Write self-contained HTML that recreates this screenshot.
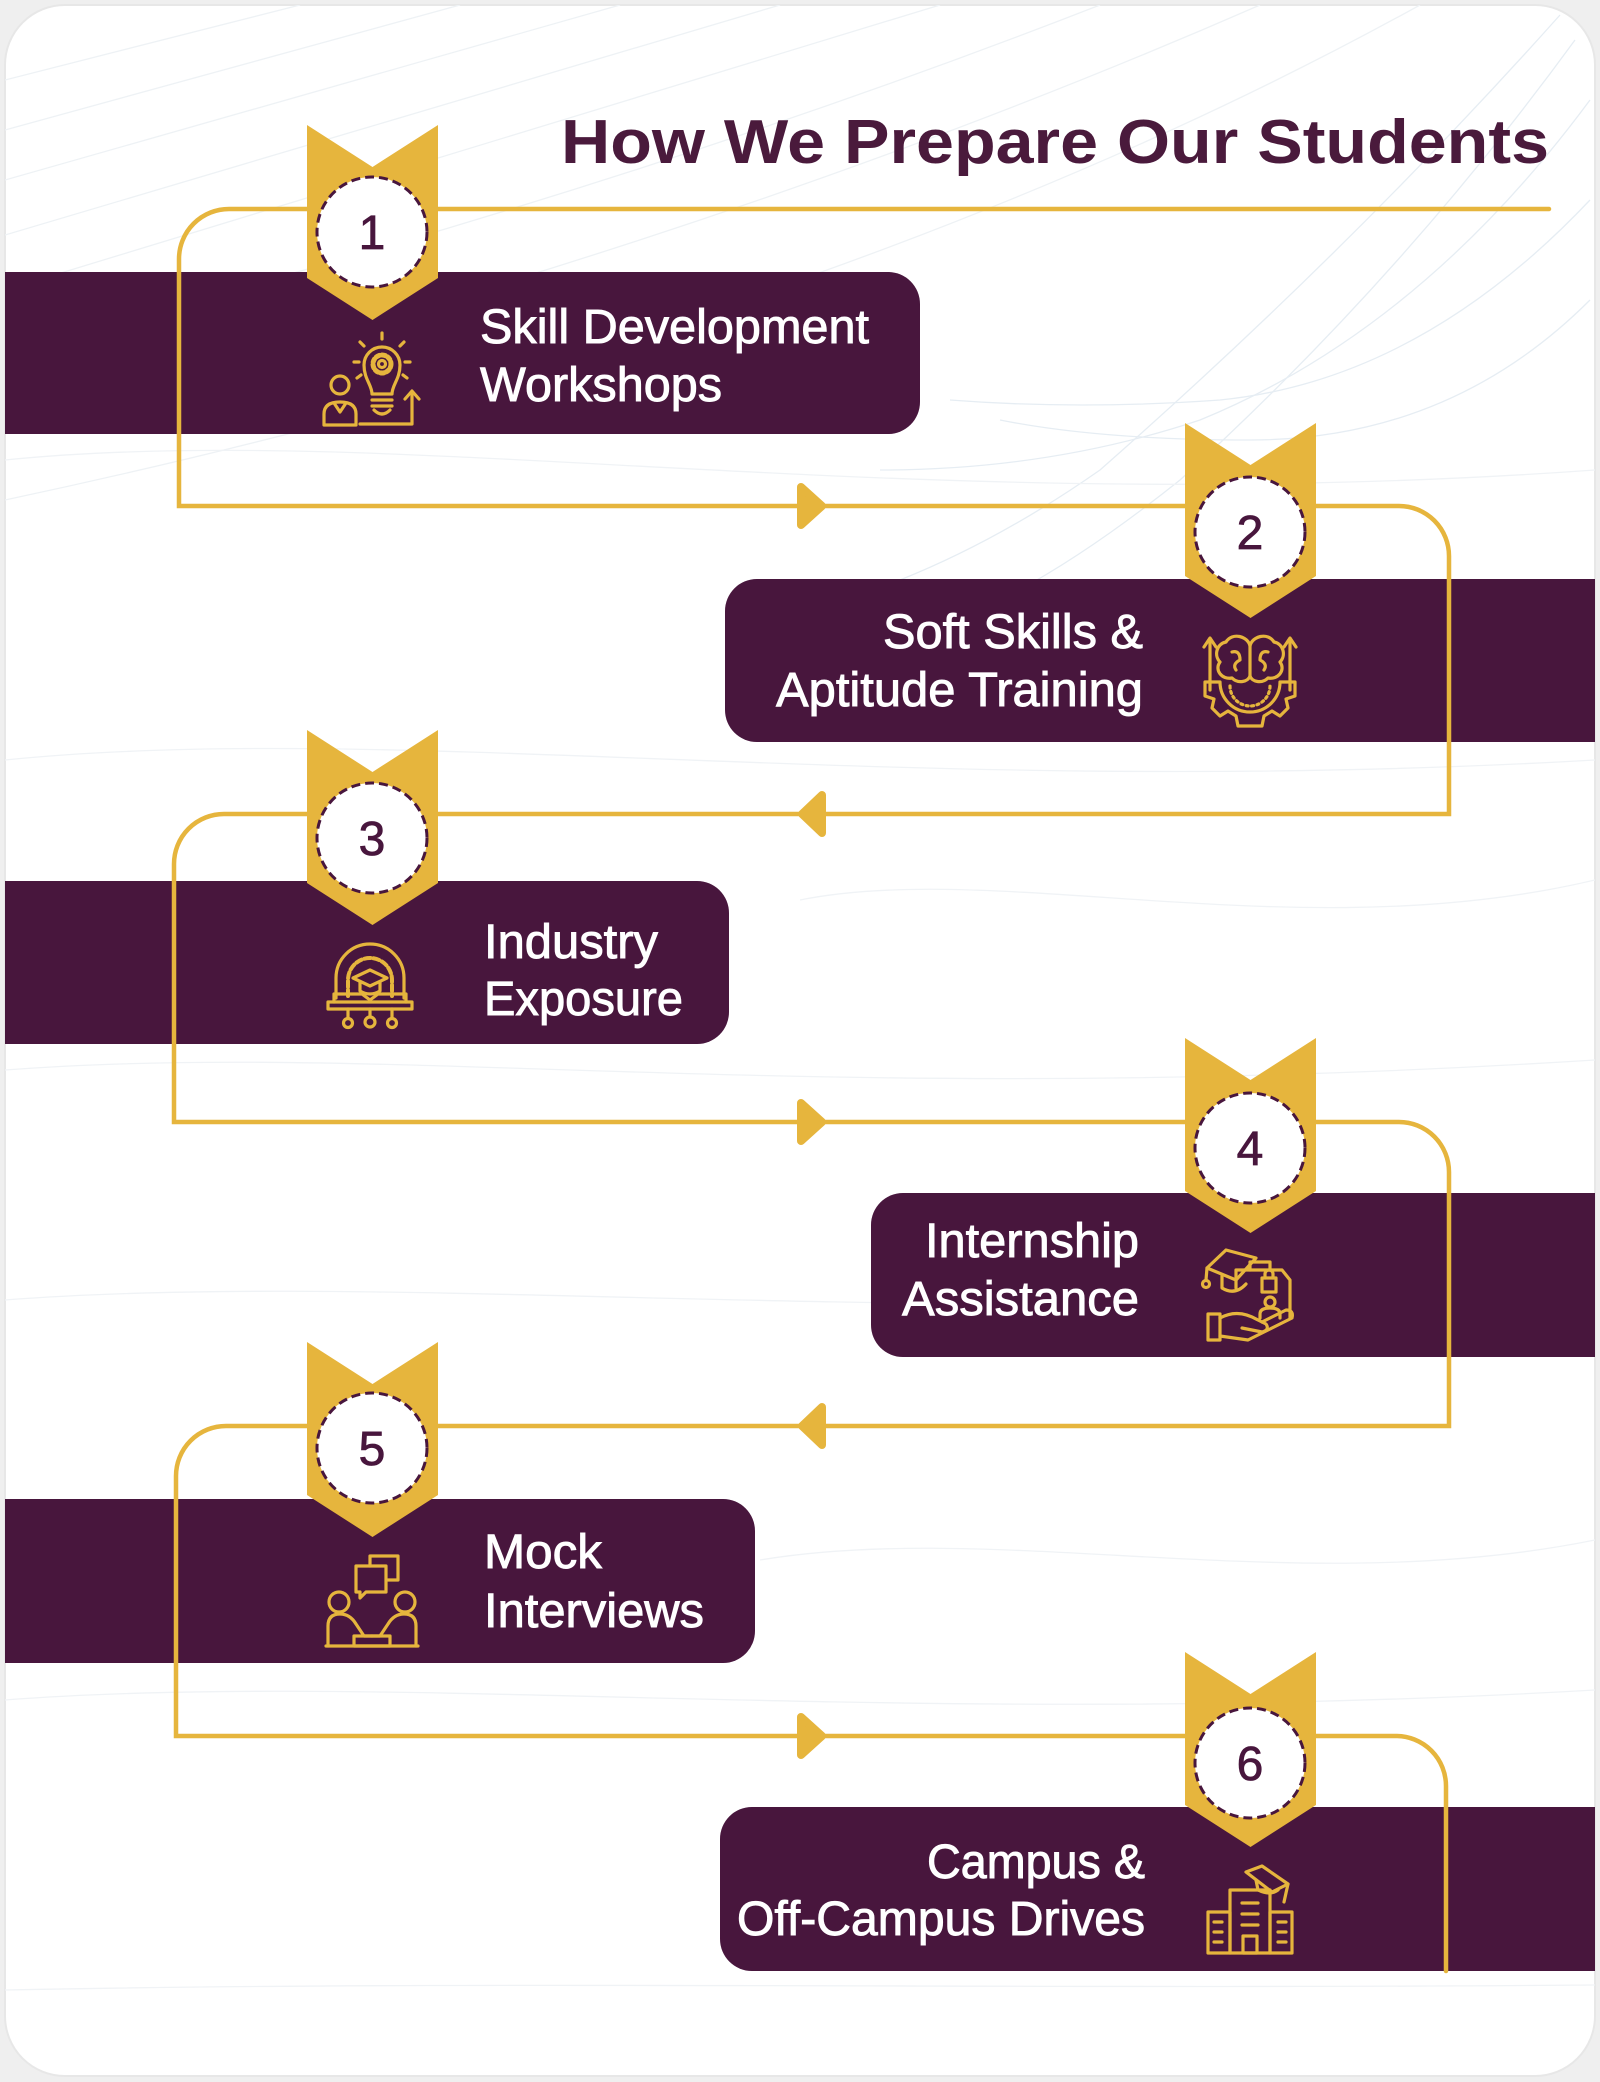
<!DOCTYPE html>
<html>
<head>
<meta charset="utf-8">
<style>
  html,body{margin:0;padding:0;background:#efefef;}
  svg{display:block;}
</style>
</head>
<body>
<svg width="1600" height="2082" viewBox="0 0 1600 2082" xmlns="http://www.w3.org/2000/svg">
  <defs>
    <clipPath id="card">
      <rect x="5" y="5" width="1590" height="2071" rx="60" ry="60"/>
    </clipPath>
  </defs>
  <rect x="0" y="0" width="1600" height="2082" fill="#efefef"/>
  <rect x="5" y="5" width="1590" height="2071" rx="60" ry="60" fill="#ffffff" stroke="#e7e7e7" stroke-width="2"/>

  <!-- background decorative lines -->
  <g clip-path="url(#card)" fill="none" stroke-width="1.3">
    <g stroke="#eef2f5">
      <path d="M 300 5 L 5 80"/>
      <path d="M 460 5 L 5 130"/>
      <path d="M 620 5 L 5 180"/>
      <path d="M 780 5 L 5 235"/>
      <path d="M 940 5 L 5 290"/>
      <path d="M 1100 5 Q 600 200 5 350"/>
      <path d="M 1260 5 Q 700 250 5 420"/>
      <path d="M 1420 5 Q 850 320 5 500"/>
    </g>
    <g stroke="#e6edf3">
      <path d="M 1560 15 Q 1350 250 1100 470 Q 1000 540 900 580"/>
      <path d="M 1575 40 Q 1400 280 1180 480 Q 1080 560 1000 600"/>
      <path d="M 1590 100 Q 1420 330 1200 420 Q 1050 470 880 470"/>
      <path d="M 1590 200 Q 1420 380 1220 400 Q 1080 410 950 400"/>
      <path d="M 1590 300 Q 1450 440 1250 440 Q 1100 440 1000 420"/>
    </g>
    <g stroke="#f0f3f6">
      <path d="M 5 460 C 400 420 900 520 1595 470"/>
      <path d="M 5 760 C 400 720 900 800 1595 760"/>
      <path d="M 5 1070 C 400 1040 800 1110 1595 1060"/>
      <path d="M 5 1300 C 400 1270 900 1330 1595 1290"/>
      <path d="M 5 1700 C 400 1670 900 1730 1595 1690"/>
      <path d="M 5 1990 C 500 1980 1000 1990 1595 1985"/>
      <path d="M 800 900 C 1000 860 1300 950 1595 880"/>
      <path d="M 760 1560 C 1000 1520 1300 1600 1595 1540"/>
    </g>
  </g>

  <!-- Title -->
  <text x="561" y="163" textLength="988" lengthAdjust="spacingAndGlyphs" font-family="'Liberation Sans', sans-serif" font-weight="bold" font-size="62" fill="#4a1a3c">How We Prepare Our Students</text>

  <!-- Banners -->
  <g fill="#48163d">
    <path d="M 5 272 H 888 A 32 32 0 0 1 920 304 V 402 A 32 32 0 0 1 888 434 H 5 Z"/>
    <path d="M 1595 579 H 757 A 32 32 0 0 0 725 611 V 710 A 32 32 0 0 0 757 742 H 1595 Z"/>
    <path d="M 5 881 H 697 A 32 32 0 0 1 729 913 V 1012 A 32 32 0 0 1 697 1044 H 5 Z"/>
    <path d="M 1595 1193 H 903 A 32 32 0 0 0 871 1225 V 1325 A 32 32 0 0 0 903 1357 H 1595 Z"/>
    <path d="M 5 1499 H 723 A 32 32 0 0 1 755 1531 V 1631 A 32 32 0 0 1 723 1663 H 5 Z"/>
    <path d="M 1595 1807 H 752 A 32 32 0 0 0 720 1839 V 1939 A 32 32 0 0 0 752 1971 H 1595 Z"/>
  </g>

  <!-- Connectors -->
  <path d="M 1549 209 H 229 A 50 50 0 0 0 179 259 V 506 H 1399 A 50 50 0 0 1 1449 556 V 814 H 224 A 50 50 0 0 0 174 864 V 1122 H 1399 A 50 50 0 0 1 1449 1172 V 1426 H 226 A 50 50 0 0 0 176 1476 V 1736 H 1396 A 50 50 0 0 1 1446 1786 V 1971" fill="none" stroke="#e6b53d" stroke-width="4.5" stroke-linecap="round"/>

  <!-- Arrowheads -->
  <g fill="#e6b53d" stroke="#e6b53d" stroke-width="8" stroke-linejoin="round">
    <polygon points="801,487 822,506 801,525"/>
    <polygon points="802,814 822,795 822,833"/>
    <polygon points="801,1103 822,1122 801,1141"/>
    <polygon points="802,1426 822,1407 822,1445"/>
    <polygon points="801,1717 822,1736 801,1755"/>
  </g>

  <!-- Ribbons -->
  <g fill="#e6b53d">
    <polygon points="307,125 372.5,167 438,125 438,278 372.5,320 307,278"/>
    <polygon points="1185,423 1250.5,465 1316,423 1316,576 1250.5,618 1185,576"/>
    <polygon points="307,730 372.5,772 438,730 438,883 372.5,925 307,883"/>
    <polygon points="1185,1038 1250.5,1080 1316,1038 1316,1191 1250.5,1233 1185,1191"/>
    <polygon points="307,1342 372.5,1384 438,1342 438,1495 372.5,1537 307,1495"/>
    <polygon points="1185,1652 1250.5,1694 1316,1652 1316,1805 1250.5,1847 1185,1805"/>
  </g>

  <!-- Number circles -->
  <g fill="#ffffff" stroke="#48163d" stroke-width="3" stroke-dasharray="9 5">
    <circle cx="372" cy="232" r="55"/>
    <circle cx="1250" cy="532" r="55"/>
    <circle cx="372" cy="838" r="55"/>
    <circle cx="1250" cy="1148" r="55"/>
    <circle cx="372" cy="1448" r="55"/>
    <circle cx="1250" cy="1763" r="55"/>
  </g>
  <g font-family="'Liberation Sans', sans-serif" font-size="48" fill="#48163d" text-anchor="middle" stroke="#48163d" stroke-width="0.8">
    <text x="372" y="249">1</text>
    <text x="1250" y="549">2</text>
    <text x="372" y="855">3</text>
    <text x="1250" y="1165">4</text>
    <text x="372" y="1465">5</text>
    <text x="1250" y="1780">6</text>
  </g>

  <!-- Labels -->
  <g font-family="'Liberation Sans', sans-serif" font-size="48" fill="#ffffff" stroke="#ffffff" stroke-width="0.9">
    <text x="480" y="343" textLength="389" lengthAdjust="spacingAndGlyphs">Skill Development</text>
    <text x="480" y="401" textLength="242" lengthAdjust="spacingAndGlyphs">Workshops</text>
    <text x="883" y="648" textLength="260" lengthAdjust="spacingAndGlyphs">Soft Skills &amp;</text>
    <text x="776" y="706" textLength="367" lengthAdjust="spacingAndGlyphs">Aptitude Training</text>
    <text x="484" y="958" textLength="174" lengthAdjust="spacingAndGlyphs">Industry</text>
    <text x="484" y="1015" textLength="199" lengthAdjust="spacingAndGlyphs">Exposure</text>
    <text x="925" y="1257" textLength="214" lengthAdjust="spacingAndGlyphs">Internship</text>
    <text x="902" y="1315" textLength="237" lengthAdjust="spacingAndGlyphs">Assistance</text>
    <text x="484" y="1568" textLength="118" lengthAdjust="spacingAndGlyphs">Mock</text>
    <text x="484" y="1627" textLength="220" lengthAdjust="spacingAndGlyphs">Interviews</text>
    <text x="927" y="1878" textLength="218" lengthAdjust="spacingAndGlyphs">Campus &amp;</text>
    <text x="737" y="1935" textLength="408" lengthAdjust="spacingAndGlyphs">Off-Campus Drives</text>
  </g>

  <!-- Icons -->
  <g fill="none" stroke="#e6b53d" stroke-width="3.2" stroke-linecap="round" stroke-linejoin="round">
    <!-- Icon 1 -->
    <g>
      <line x1="382" y1="333" x2="382" y2="339"/>
      <line x1="360" y1="342" x2="364" y2="346"/>
      <line x1="404" y1="342" x2="400" y2="346"/>
      <line x1="354" y1="362" x2="359" y2="362"/>
      <line x1="410" y1="362" x2="405" y2="362"/>
      <line x1="357" y1="378" x2="361" y2="375"/>
      <line x1="407" y1="378" x2="403" y2="375"/>
      <path d="M 372 394 C 372 385 364 379 364 365 A 18 18 0 1 1 400 365 C 400 379 392 385 392 394 Z"/>
      <circle cx="382" cy="364" r="9" stroke-dasharray="3.5 2.5" stroke-width="5"/>
      <circle cx="382" cy="364" r="3.5"/>
      <line x1="372" y1="400" x2="392" y2="400"/>
      <line x1="372" y1="406" x2="392" y2="406"/>
      <path d="M 374 410 Q 382 418 390 410"/>
      <circle cx="340" cy="385" r="9"/>
      <path d="M 324 425 V 414 Q 324 402 340 402 Q 356 402 356 414 V 425 Z"/>
      <path d="M 334 403 L 340 412 L 346 403"/>
      <path d="M 360 424 H 412 V 392"/>
      <path d="M 405 399 L 412 391 L 419 399"/>
    </g>
    <!-- Icon 2 -->
    <g>
      <path d="M 1250 646 C 1248 636 1232 632 1226 642 C 1216 644 1214 656 1220 662 C 1214 670 1222 680 1232 678 C 1238 684 1248 682 1250 676 Z"/>
      <path d="M 1250 646 C 1252 636 1268 632 1274 642 C 1284 644 1286 656 1280 662 C 1286 670 1278 680 1268 678 C 1262 684 1252 682 1250 676"/>
      <path d="M 1232 652 Q 1240 650 1240 660 Q 1232 664 1236 670"/>
      <path d="M 1268 652 Q 1260 650 1260 660 Q 1268 664 1264 670"/>
      <line x1="1210" y1="690" x2="1210" y2="640"/>
      <path d="M 1204 647 L 1210 638 L 1216 647"/>
      <line x1="1290" y1="690" x2="1290" y2="640"/>
      <path d="M 1284 647 L 1290 638 L 1296 647"/>
      <path d="M 1205 682 L 1220 682 A 30 30 0 0 0 1280 682 L 1295 682 L 1295 696 L 1286 699 L 1288 708 L 1280 716 L 1272 711 L 1264 716 L 1262 726 L 1238 726 L 1236 716 L 1228 711 L 1220 716 L 1212 708 L 1214 699 L 1205 696 Z"/>
      <path d="M 1230 686 A 20 20 0 0 0 1270 686" stroke-dasharray="2 3.5"/>
    </g>
    <!-- Icon 3 -->
    <g>
      <path d="M 336 998 V 978 A 34 34 0 0 1 404 978 V 998"/>
      <path d="M 348 996 V 980 A 22 22 0 0 1 392 980 V 996" stroke-dasharray="6 3" stroke-width="4"/>
      <path d="M 353 978 L 370 970 L 387 978 L 370 986 Z"/>
      <path d="M 360 982 V 991 Q 370 997 380 991 V 982"/>
      <path d="M 334 1002 V 994 H 362 L 370 1000 L 378 994 H 406 V 1002"/>
      <rect x="328" y="1002" width="84" height="7"/>
      <line x1="348" y1="1009" x2="348" y2="1018"/>
      <line x1="370" y1="1009" x2="370" y2="1016"/>
      <line x1="392" y1="1009" x2="392" y2="1018"/>
      <circle cx="348" cy="1023" r="4.5"/>
      <circle cx="370" cy="1022" r="5"/>
      <circle cx="392" cy="1023" r="4.5"/>
    </g>
    <!-- Icon 4 -->
    <g>
      <path d="M 1236 1288 V 1270 H 1282 L 1290 1280 V 1318"/>
      <path d="M 1250 1270 V 1262 H 1270 V 1270"/>
      <rect x="1262" y="1278" width="14" height="14"/>
      <path d="M 1265 1278 V 1274 A 4 4 0 0 1 1273 1274 V 1278"/>
      <circle cx="1270" cy="1302" r="5"/>
      <path d="M 1260 1318 V 1314 Q 1260 1308 1270 1308 Q 1280 1308 1280 1314 V 1318"/>
      <path d="M 1207 1268 L 1226 1250 L 1256 1258 L 1236 1280 Z"/>
      <path d="M 1222 1276 L 1222 1288 Q 1235 1296 1246 1284"/>
      <path d="M 1207 1268 L 1206 1280"/>
      <circle cx="1206" cy="1284" r="3.5"/>
      <rect x="1208" y="1314" width="12" height="26"/>
      <path d="M 1220 1318 Q 1238 1308 1258 1320 L 1266 1324 Q 1270 1330 1262 1332 L 1242 1328"/>
      <path d="M 1220 1336 L 1248 1340 L 1292 1318 Q 1294 1310 1286 1310 L 1262 1322"/>
    </g>
    <!-- Icon 5 -->
    <g>
      <path d="M 370 1566 V 1556 H 398 V 1580 H 388"/>
      <path d="M 356 1566 H 386 V 1592 H 366 L 360 1598 V 1592 H 356 Z"/>
      <circle cx="339" cy="1602" r="10"/>
      <circle cx="405" cy="1602" r="10"/>
      <path d="M 328 1646 V 1626 Q 328 1614 340 1614 Q 350 1614 356 1624 L 364 1636 H 372"/>
      <path d="M 416 1646 V 1626 Q 416 1614 404 1614 Q 394 1614 388 1624 L 380 1636 H 372"/>
      <rect x="354" y="1636" width="36" height="10"/>
      <line x1="326" y1="1646" x2="418" y2="1646"/>
    </g>
    <!-- Icon 6 -->
    <g>
      <rect x="1230" y="1890" width="40" height="63"/>
      <rect x="1208" y="1912" width="22" height="41"/>
      <rect x="1270" y="1912" width="22" height="41"/>
      <line x1="1242" y1="1903" x2="1258" y2="1903"/>
      <line x1="1242" y1="1914" x2="1258" y2="1914"/>
      <line x1="1242" y1="1925" x2="1258" y2="1925"/>
      <rect x="1243" y="1936" width="14" height="17"/>
      <line x1="1214" y1="1922" x2="1222" y2="1922"/>
      <line x1="1214" y1="1932" x2="1222" y2="1932"/>
      <line x1="1214" y1="1942" x2="1222" y2="1942"/>
      <line x1="1278" y1="1922" x2="1286" y2="1922"/>
      <line x1="1278" y1="1932" x2="1286" y2="1932"/>
      <line x1="1278" y1="1942" x2="1286" y2="1942"/>
      <path d="M 1246 1872 L 1262 1866 L 1288 1884 L 1272 1892 Z"/>
      <path d="M 1256 1880 L 1258 1890 Q 1270 1896 1278 1890"/>
      <path d="M 1288 1884 L 1284 1902"/>
    </g>
  </g>
</svg>
</body>
</html>
